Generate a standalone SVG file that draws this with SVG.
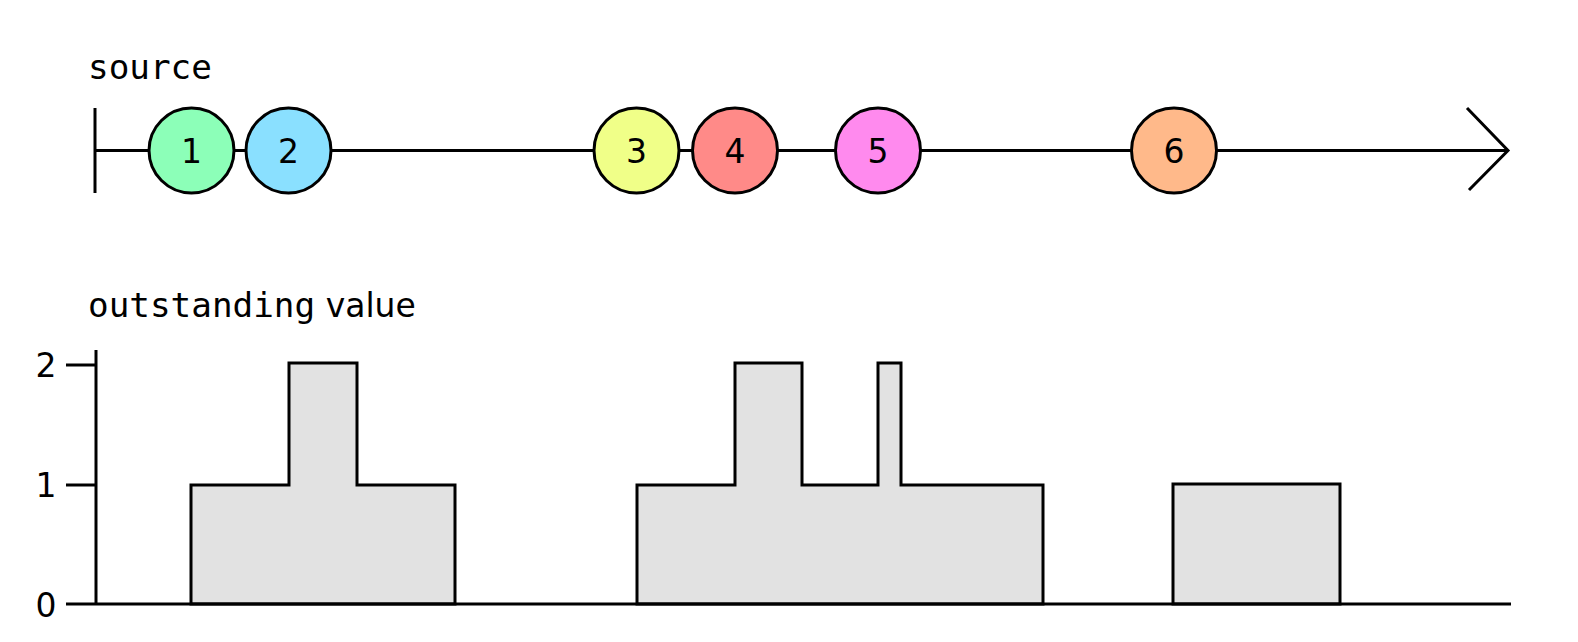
<svg xmlns="http://www.w3.org/2000/svg" width="1578" height="642" viewBox="0 0 1578 642">
<style>
.ln{stroke:#000;stroke-width:3;fill:none}
.ev{stroke:#000;stroke-width:3}
.num{font-family:"DejaVu Sans",sans-serif;font-size:33px;text-anchor:middle;fill:#000}
.mono{font-family:"DejaVu Sans Mono",monospace;font-size:34.3px;fill:#000}
.prop{font-family:"DejaVu Sans",sans-serif;font-size:33px;fill:#000}
.ax{font-family:"DejaVu Sans",sans-serif;font-size:33px;text-anchor:middle;fill:#000}
.area{fill:#e2e2e2;stroke:#000;stroke-width:3;stroke-linejoin:miter}
</style>
<rect width="1578" height="642" fill="#fff"/>
<text class="mono" x="88" y="79">source</text>
<g id="connectors">
  <line class="ln" x1="95" y1="150.5" x2="1507" y2="150.5"/>
  <line class="ln" x1="95" y1="108" x2="95" y2="193"/>
  <polyline class="ln" points="1467,108 1508,150.5 1469,190"/>
</g>
<g id="e1"><circle class="ev" cx="191.5" cy="150.5" r="42.5" fill="#8cffb8"/><text class="num" x="191.5" y="162.5">1</text></g>
<g id="e2"><circle class="ev" cx="288.5" cy="150.5" r="42.5" fill="#8ae0ff"/><text class="num" x="288.5" y="162.5">2</text></g>
<g id="e3"><circle class="ev" cx="636.5" cy="150.5" r="42.5" fill="#f0ff88"/><text class="num" x="636.5" y="162.5">3</text></g>
<g id="e4"><circle class="ev" cx="735" cy="150.5" r="42.5" fill="#ff8a88"/><text class="num" x="735" y="162.5">4</text></g>
<g id="e5"><circle class="ev" cx="878" cy="150.5" r="42.5" fill="#ff8aee"/><text class="num" x="878" y="162.5">5</text></g>
<g id="e6"><circle class="ev" cx="1174" cy="150.5" r="42.5" fill="#ffb98a"/><text class="num" x="1174" y="162.5">6</text></g>
<g id="chart">
  <text x="88" y="317"><tspan class="mono">outstanding</tspan><tspan class="prop"> value</tspan></text>
  <path class="area" d="M191,604 V485 H289 V363 H357 V485 H455 V604 Z"/>
  <path class="area" d="M637,604 V485 H735 V363 H802 V485 H878 V363 H901 V485 H1043 V604 Z"/>
  <path class="area" d="M1173,604 V484 H1340 V604 Z"/>
  <line class="ln" x1="96" y1="350" x2="96" y2="604"/>
  <line class="ln" x1="66" y1="604" x2="1511" y2="604"/>
  <line class="ln" x1="66" y1="365" x2="96" y2="365"/>
  <line class="ln" x1="66" y1="485" x2="96" y2="485"/>
  <text class="ax" x="46" y="377">2</text>
  <text class="ax" x="46" y="497">1</text>
  <text class="ax" x="46" y="617">0</text>
</g>
</svg>
